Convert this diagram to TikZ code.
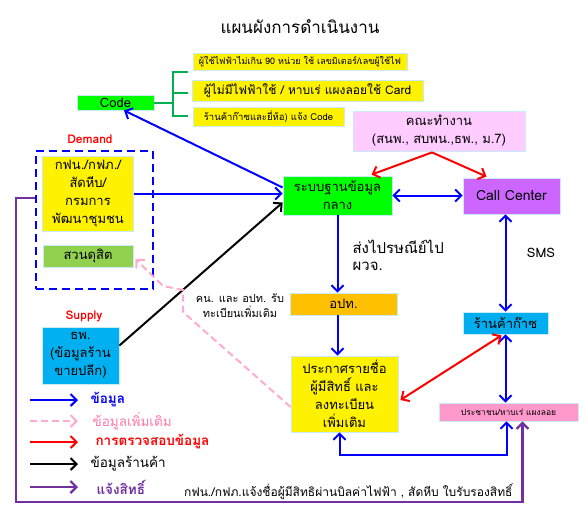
\documentclass[tikz,border=0pt]{standalone}
\usepackage{fontspec}
\setmainfont[Script=Thai]{Loma}
\usetikzlibrary{arrows.meta,calc}
\definecolor{myblue}{RGB}{0,0,255}
\definecolor{myred}{RGB}{255,0,0}
\definecolor{mypink}{RGB}{255,170,210}
\definecolor{legpink}{RGB}{255,120,170}
\definecolor{mypurple}{RGB}{112,48,160}
\definecolor{brightgreen}{RGB}{0,255,0}
\definecolor{bracketgreen}{RGB}{0,176,80}
\definecolor{lilac}{RGB}{255,204,255}
\definecolor{violetbox}{RGB}{204,102,255}
\definecolor{orangebox}{RGB}{255,192,0}
\definecolor{pinkbox}{RGB}{255,153,204}
\definecolor{greenbox}{RGB}{146,208,80}
\definecolor{skyblue}{RGB}{0,176,240}
\definecolor{boxline}{RGB}{200,235,245}

\begin{document}
\begin{tikzpicture}[x=1pt, y=-1pt, >={Straight Barb[length=6pt,width=12pt]},
    font=\fontsize{13}{18}\selectfont,
    box/.style={draw=boxline, line width=0.8pt, align=center, inner sep=1pt},
    infoline/.style={myblue, line width=2pt},
    extraline/.style={mypink, line width=2pt, dash pattern=on 7pt off 4pt},
    checkline/.style={myred, line width=2pt},
    shopline/.style={black, line width=2pt},
    rightline/.style={mypurple, line width=2.2pt},
    bracket/.style={bracketgreen, line width=2pt}]
	%Bildbereich
	\useasboundingbox (0,0) rectangle (588,515);
	% Titel
	\node[font=\fontsize{17}{19}\selectfont] (title) at (300,27) {แผนผังการดำเนินงาน};
	% Code und Liste
	\node[box, fill=brightgreen, minimum width=77, minimum height=15] (code) at (115.5,102.5) {Code};
	\node[box, fill=yellow, minimum width=214, minimum height=17, font=\fontsize{9}{11}\selectfont] (usera) at (300,61.5) {ผู้ใช้ไฟฟ้าไม่เกิน 90 หน่วย ใช้ เลขมิเตอร์/เลขผู้ใช้ไฟ};
	\node[box, fill=yellow, minimum width=231, minimum height=21, font=\fontsize{12}{14}\selectfont] (userb) at (307.5,90.5) {ผู้ไม่มีไฟฟ้าใช้ / หาบเร่ แผงลอยใช้ Card};
	\node[box, fill=yellow, minimum width=151, minimum height=19, font=\fontsize{9.5}{12}\selectfont] (userc) at (268.5,116.5) {ร้านค้าก๊าซและยี่ห้อ) แจ้ง Code};
	\draw[bracket] (code.east) -- (172.5,102.5);
	\draw[bracket] (187.5,72) -- (172.5,72) -- (172.5,116) -- (187.5,116);
	\draw[bracket] (172.5,93) -- (187.5,93);
	% Kaesten Mitte und rechts
	\node[box, fill=lilac, minimum width=172, minimum height=40] (team) at (439,131) {คณะทำงาน\\(สนพ., สบพน.,ธพ., ม.7)};
	\node[box, fill=brightgreen, minimum width=109, minimum height=39] (db) at (337.5,195.5) {ระบบฐานข้อมูล\\กลาง};
	\node[box, fill=violetbox, minimum width=97, minimum height=36, font=\fontsize{14}{16}\selectfont] (cc) at (511.5,196) {Call Center};
	\node[box, fill=orangebox, minimum width=107, minimum height=22] (opt) at (343.5,304) {อปท.};
	\node[box, fill=yellow, minimum width=107, minimum height=76] (announce) at (344.5,394) {ประกาศรายชื่อ\\ผู้มีสิทธิ์ และ\\ลงทะเบียน\\เพิ่มเติม};
	\node[box, fill=cyan, minimum width=85, minimum height=22] (gas) at (505.5,323) {ร้านค้าก๊าซ};
	\node[box, fill=pinkbox, minimum width=139, minimum height=18, font=\fontsize{8.5}{10}\selectfont] (people) at (508.5,412) {ประชาชน/หาบเร่ แผงลอย};
	% Demand und Supply
	\node[text=myred, font=\fontsize{12}{14}\selectfont\bfseries] (demandlbl) at (90,139) {Demand};
	\node[draw=myblue, line width=2pt, dash pattern=on 8pt off 5pt, minimum width=117, minimum height=138] (demand) at (94.5,220) {};
	\node[box, fill=yellow, minimum width=91, minimum height=75] (egat) at (88,193.5) {กฟน./กฟภ./\\สัดหีบ/\\กรมการ\\พัฒนาชุมชน};
	\node[box, fill=greenbox, minimum width=90, minimum height=22] (dusit) at (88,256) {สวนดุสิต};
	\node[text=myred, font=\fontsize{12}{14}\selectfont\bfseries] (supplylbl) at (84,316) {Supply};
	\node[box, fill=skyblue, minimum width=77, minimum height=57] (doeb) at (80.5,355.5) {ธพ.\\(ข้อมูลร้าน\\ขายปลีก)};
	% Beschriftungen
	\node[anchor=west, align=left, font=\fontsize{15}{17}\selectfont] (post) at (349,255) {ส่งไปรษณีย์ไป\\ผวจ.};
	\node (sms) at (541,253) {SMS};
	\node[align=center, font=\fontsize{11}{15}\selectfont] (reg) at (240,306) {คน. และ อปท. รับ\\ทะเบียนเพิ่มเติม};
	\node[anchor=east, font=\fontsize{12}{14}\selectfont] (notice) at (516,492) {กฟน./กฟภ.แจ้งชื่อผู้มีสิทธิผ่านบิลค่าไฟฟ้า , สัดหีบ ใบรับรองสิทธิ์};
	% Pfeile
	\draw[infoline,->] (egat.east) -- (egat.east -| db.west);
	\draw[infoline,->] ($(db.west)+(0,-8)$) -- ($(code.south)+(8.5,0)$);
	\draw[shopline,->] ($(doeb.east)+(0,-10)$) -- ($(db.west)+(0,7)$);
	\draw[extraline,->] ($(announce.west)+(0,13)$) -- (183,312) -- (183,290) -- (163,286) -- ($(dusit.east)+(2,3)$);
	\draw[checkline,->] ($(team.south)+(-7,1)$) -- ($(db.north)+(34,-1)$);
	\draw[checkline,->] ($(team.south)+(-7,1)$) -- ($(cc.north)+(-25,-1)$);
	\draw[infoline,<->] (db.east) -- (db.east -| cc.west);
	\draw[infoline,->] (db.south) -- (db.south |- opt.north);
	\draw[infoline,->] (opt.south -| db.south) -- (announce.north -| db.south);
	\draw[infoline,<->] (cc.south -| gas.north) -- (gas.north);
	\draw[infoline,<->] (gas.south) -- (gas.south |- people.north);
	\draw[checkline,<->] ($(gas.south)+(-4,1)$) -- ($(announce.east)+(2,6)$);
	\draw[infoline,<->] ($(announce.south)+(-5,0)$) -- ++(0,23) -| ($(people.south)+(-2,0)$);
	\draw[rightline,->] ($(demand.west)+(0,-22)$) -| (16,502) -| ($(people.south)+(14,0)$);
	% Legende
	\foreach \i/\x/\y/\st/\col/\txt in {1/87/400/infoline/myblue/\bfseries ข้อมูล, 2/89/421/extraline/legpink/ข้อมูลเพิ่มเติม, 3/92/442/checkline/myred/\bfseries การตรวจสอบข้อมูล, 4/87/464/shopline/black/ข้อมูลร้านค้า, 5/93/487/rightline/mypurple/\bfseries แจ้งสิทธิ์}{
		\node[anchor=west, text=\col, font=\fontsize{13.5}{15}\selectfont] (leg\i) at (\x,\y) {\txt};
		\draw[\st,->] (30,\y) -- (78,\y);
	}
\end{tikzpicture}
\end{document}
